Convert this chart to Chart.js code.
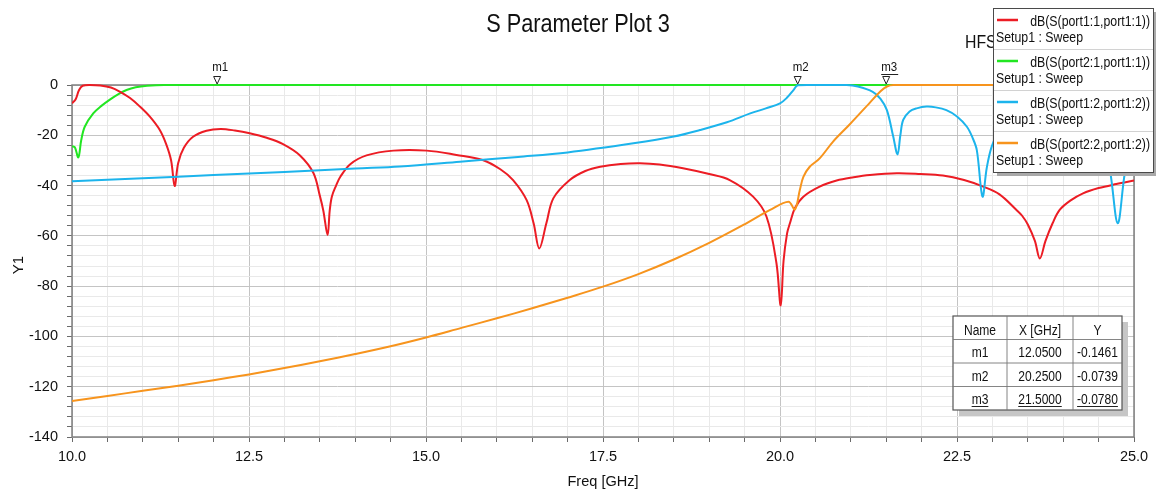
<!DOCTYPE html>
<html>
<head>
<meta charset="utf-8">
<script src="https://cdn.jsdelivr.net/npm/chart.js@4.4.0/dist/chart.umd.min.js"></script>
<style>
  html, body { margin: 0; padding: 0; background: #fff; }
  #wrap { width: 1156px; height: 493px; position: relative; }
</style>
</head>
<body>
<div id="wrap"><canvas id="sparam"></canvas></div>
<script>
// values (GHz / dB)
const s11Freq = [10.0, 10.05, 10.1, 10.15, 10.25, 10.4, 10.55, 10.68, 10.82, 10.96, 11.1, 11.24, 11.33, 11.4, 11.45, 11.5, 11.58, 11.71, 11.9, 12.1, 12.3, 12.51, 12.75, 12.98, 13.22, 13.41, 13.5, 13.55, 13.61, 13.64, 13.67, 13.73, 13.79, 13.93, 14.16, 14.54, 15.01, 15.43, 15.8, 16.05, 16.23, 16.42, 16.52, 16.6, 16.7, 16.8, 17.03, 17.25, 17.46, 17.75, 18.02, 18.3, 18.63, 19.0, 19.29, 19.62, 19.81, 19.95, 20.01, 20.05, 20.1, 20.14, 20.21, 20.33, 20.56, 20.8, 21.04, 21.27, 21.65, 21.98, 22.3, 22.6, 22.87, 23.1, 23.34, 23.42, 23.5, 23.6, 23.67, 23.75, 23.85, 23.95, 24.1, 24.28, 24.5, 24.75, 25.0];
const s11Db = [-7.3, -5.8, -2.0, -0.3, 0, -0.2, -1.0, -2.7, -5.2, -8.6, -12.6, -17.9, -23.5, -30, -40.2, -31, -25, -20.6, -18.2, -17.5, -18.1, -19.2, -21.0, -23.5, -28, -35, -44, -50, -59.7, -50, -44.4, -40, -36.5, -31.5, -28.0, -26.1, -26.1, -27.8, -29.8, -33.5, -37.8, -45.7, -55, -65, -55, -45, -37.8, -34.2, -32.5, -31.4, -31.1, -31.6, -33.1, -35.4, -37.8, -44.4, -52.4, -70.9, -87.7, -70, -59, -55, -49, -44.4, -40.4, -38.0, -36.7, -35.8, -35.1, -35.4, -36.0, -37.8, -40.4, -43.5, -49.7, -52, -55.5, -62, -69, -62, -55, -49.7, -46, -43.1, -41, -39.4, -38.0];

const s21Freq = [10.0, 10.04, 10.09, 10.13, 10.18, 10.3, 10.42, 10.54, 10.65, 10.77, 10.9, 11.06, 11.3, 25.0];
const s21Db = [-24.3, -24.8, -28.8, -22, -16.6, -11.3, -8.2, -5.7, -3.7, -2.0, -0.9, -0.3, 0, 0];

const s12Freq = [10.0, 11.0, 12.0, 13.0, 14.0, 14.63, 15.48, 16.3, 17.0, 17.93, 18.5, 18.87, 19.25, 19.58, 19.8, 20.0, 20.1, 20.19, 20.25, 20.4, 20.94, 21.1, 21.31, 21.42, 21.51, 21.6, 21.66, 21.7, 21.74, 21.83, 21.93, 22.07, 22.2, 22.35, 22.5, 22.64, 22.72, 22.78, 22.86, 22.92, 22.99, 23.1, 23.3, 23.6, 23.9, 24.2, 24.45, 24.58, 24.66, 24.77, 24.87, 24.95, 25.0];
const s12Db = [-38.3, -37.1, -35.8, -34.6, -33.2, -32.4, -30.5, -28.6, -26.8, -23.2, -20.5, -17.9, -14.8, -11.3, -9.3, -7.3, -5, -2, -0.1, 0, 0, -0.6, -2.7, -5.5, -10, -20.6, -27.6, -20, -13.9, -10.5, -9.3, -8.6, -8.9, -10, -12.5, -16.6, -21, -25.9, -44.4, -33, -24.5, -18, -12, -9, -9, -12, -18, -26, -33.8, -55, -35.1, -26, -22];

const s22Freq = [10.0, 10.5, 11.0, 11.5, 12.0, 12.5, 13.0, 13.5, 14.0, 14.5, 15.0, 15.5, 16.0, 16.5, 17.0, 17.5, 18.0, 18.5, 19.0, 19.5, 19.86, 20.12, 20.21, 20.28, 20.33, 20.42, 20.56, 20.75, 20.99, 21.27, 21.42, 21.51, 21.6, 25.0];
const s22Db = [-125.7, -123.7, -121.6, -119.6, -117.4, -115.1, -112.6, -109.9, -107.0, -103.9, -100.4, -96.6, -92.8, -88.8, -84.6, -80.2, -75.2, -69.4, -62.8, -55.4, -49.7, -46.4, -49.5, -41.8, -36.5, -32.5, -29.2, -22.5, -15.5, -7, -2.5, -0.6, 0, 0];

const seriesNames = ['dB(S(port1:1,port1:1))', 'dB(S(port2:1,port1:1))', 'dB(S(port1:2,port1:2))', 'dB(S(port2:2,port1:2))'];
const sweepName = 'Setup1 : Sweep';
const seriesColors = ['#ec1c24', '#22e622', '#1cb4ec', '#f7941d'];

const markerNames = ['m1', 'm2', 'm3'];
const markerFreqs = [12.05, 20.25, 21.5];
const markerValues = [-0.1461, -0.0739, -0.0780];

const FONT = '"Liberation Sans", Arial, sans-serif';

function isMultiple(v, step) {
    return Math.abs(v / step - Math.round(v / step)) < 1e-6;
}

function squeezeText(ctx, text, x, y, size, align, sx) {
    ctx.save();
    ctx.font = size + 'px ' + FONT;
    ctx.textAlign = align;
    ctx.textBaseline = 'alphabetic';
    ctx.fillStyle = '#111';
    ctx.translate(x, y);
    ctx.scale(sx, 1);
    ctx.fillText(text, 0, 0);
    ctx.restore();
}

function toPoints(fs, ds) {
    return fs.map((f, i) => ({ x: f, y: ds[i] }));
}

const framePlugin = {
    id: 'frame',
    beforeDatasetsDraw(chart) {
        const ctx = chart.ctx, a = chart.chartArea;
        ctx.save();
        ctx.strokeStyle = '#808080';
        ctx.lineWidth = 1.5;
        ctx.strokeRect(a.left, a.top, a.right - a.left, a.bottom - a.top);
        ctx.restore();
    }
};

const overlayPlugin = {
    id: 'overlay',
    afterDraw(chart) {
        const ctx = chart.ctx, a = chart.chartArea;
        const xs = chart.scales.x;

        squeezeText(ctx, 'S Parameter Plot 3', 578, 32, 25, 'center', 0.87);
        squeezeText(ctx, 'Freq [GHz]', (a.left + a.right) / 2, 486, 15, 'center', 0.97);
        ctx.save();
        ctx.translate(23, 265);
        ctx.rotate(-Math.PI / 2);
        squeezeText(ctx, 'Y1', 0, 0, 15, 'center', 1);
        ctx.restore();
        squeezeText(ctx, 'HFSSDesign1', 965, 48, 18, 'left', 0.88);

        // markers
        markerNames.forEach((name, i) => {
            const x = xs.getPixelForValue(markerFreqs[i]);
            const t = a.top;
            ctx.save();
            ctx.beginPath();
            ctx.moveTo(x - 3.5, t - 8.5);
            ctx.lineTo(x + 3.5, t - 8.5);
            ctx.lineTo(x, t - 1);
            ctx.closePath();
            ctx.fillStyle = '#fff';
            ctx.fill();
            ctx.strokeStyle = '#222';
            ctx.lineWidth = 1;
            ctx.stroke();
            ctx.restore();
            squeezeText(ctx, name, x - 5, t - 14, 12.5, 'left', 0.92);
            if (i === markerNames.length - 1) {
                ctx.save();
                ctx.strokeStyle = '#222';
                ctx.lineWidth = 1;
                ctx.beginPath();
                ctx.moveTo(x - 5, t - 10.5);
                ctx.lineTo(x + 12, t - 10.5);
                ctx.stroke();
                ctx.restore();
            }
        });

        // legend box
        const lx = 993, ly = 8, lw = 160, eh = 41, lh = eh * seriesNames.length;
        ctx.save();
        ctx.fillStyle = '#a9a9a9';
        ctx.fillRect(lx + 4, ly + 4, lw, lh);
        ctx.fillStyle = '#fff';
        ctx.fillRect(lx, ly, lw, lh);
        ctx.strokeStyle = '#4a4a4a';
        ctx.lineWidth = 1;
        ctx.strokeRect(lx + 0.5, ly + 0.5, lw, lh);
        ctx.strokeStyle = '#d2d2d2';
        for (let i = 1; i < seriesNames.length; i++) {
            ctx.beginPath();
            ctx.moveTo(lx + 1, ly + i * eh + 0.5);
            ctx.lineTo(lx + lw, ly + i * eh + 0.5);
            ctx.stroke();
        }
        seriesNames.forEach((name, i) => {
            const top = ly + i * eh;
            ctx.strokeStyle = seriesColors[i];
            ctx.lineWidth = 2.5;
            ctx.beginPath();
            ctx.moveTo(lx + 4, top + 12);
            ctx.lineTo(lx + 25, top + 12);
            ctx.stroke();
            squeezeText(ctx, name, lx + lw - 3, top + 18, 14, 'right', 0.88);
            squeezeText(ctx, sweepName, lx + 3, top + 34, 14, 'left', 0.88);
        });
        ctx.restore();

        // marker table
        const tx = 953, ty = 316, cw = [54, 66, 49], rh = 23.5;
        const tw = cw[0] + cw[1] + cw[2], th = rh * (markerNames.length + 1);
        ctx.save();
        ctx.fillStyle = '#c6c6c6';
        ctx.fillRect(tx + 6, ty + 6, tw, th);
        ctx.fillStyle = '#fff';
        ctx.fillRect(tx, ty, tw, th);
        ctx.strokeStyle = '#555';
        ctx.lineWidth = 1.2;
        ctx.strokeRect(tx, ty, tw, th);
        ctx.lineWidth = 0.9;
        ctx.strokeStyle = '#777';
        for (let r = 1; r <= markerNames.length; r++) {
            ctx.beginPath();
            ctx.moveTo(tx, ty + r * rh);
            ctx.lineTo(tx + tw, ty + r * rh);
            ctx.stroke();
        }
        let cx = tx;
        for (let c = 0; c < 2; c++) {
            cx += cw[c];
            ctx.beginPath();
            ctx.moveTo(cx, ty);
            ctx.lineTo(cx, ty + th);
            ctx.stroke();
        }
        const centers = [tx + cw[0] / 2, tx + cw[0] + cw[1] / 2, tx + cw[0] + cw[1] + cw[2] / 2];
        const header = ['Name', 'X [GHz]', 'Y'];
        header.forEach((h, c) => squeezeText(ctx, h, centers[c], ty + 19, 14, 'center', 0.86));
        markerNames.forEach((name, r) => {
            const cells = [name, markerFreqs[r].toFixed(4), markerValues[r].toFixed(4)];
            const base = ty + (r + 1) * rh + 17.5;
            cells.forEach((txt, c) => {
                squeezeText(ctx, txt, centers[c], base, 14, 'center', 0.86);
                if (r === markerNames.length - 1) {
                    ctx.font = '14px ' + FONT;
                    const w = ctx.measureText(txt).width * 0.86;
                    ctx.strokeStyle = '#222';
                    ctx.lineWidth = 1;
                    ctx.beginPath();
                    ctx.moveTo(centers[c] - w / 2, base + 2.5);
                    ctx.lineTo(centers[c] + w / 2, base + 2.5);
                    ctx.stroke();
                }
            });
        });
        ctx.restore();
    }
};

const gridMajor = '#c4c4c4';
const gridMinor = '#e9e9e9';

const ctx = document.getElementById('sparam').getContext('2d');
const chart = new Chart(ctx, {
    type: 'line',
    data: {
        datasets: [
            { label: seriesNames[0], data: toPoints(s11Freq, s11Db), borderColor: seriesColors[0], order: 2 },
            { label: seriesNames[1], data: toPoints(s21Freq, s21Db), borderColor: seriesColors[1], order: 3 },
            { label: seriesNames[2], data: toPoints(s12Freq, s12Db), borderColor: seriesColors[2], order: 1 },
            { label: seriesNames[3], data: toPoints(s22Freq, s22Db), borderColor: seriesColors[3], order: 0 }
        ]
    },
    options: {
        responsive: true,
        maintainAspectRatio: false,
        animation: false,
        devicePixelRatio: 1,
        layout: { padding: { left: 0, top: 85, right: 22, bottom: 0 } },
        elements: {
            point: { radius: 0 },
            line: { borderWidth: 2, tension: 0.35, fill: false }
        },
        datasets: { line: { clip: { left: 0, top: 3, right: 2, bottom: 0 } } },
        plugins: {
            legend: { display: false },
            tooltip: { enabled: false },
            title: { display: false }
        },
        scales: {
            x: {
                type: 'linear',
                min: 10,
                max: 25,
                afterBuildTicks(scale) {
                    const t = [];
                    for (let v = 10; v <= 25.0001; v += 0.5) t.push({ value: Math.round(v * 10) / 10 });
                    scale.ticks = t;
                },
                afterFit(scale) {
                    scale.height = 56;
                    scale.paddingLeft = 0;
                    scale.paddingRight = 0;
                },
                border: { display: false },
                grid: {
                    color: c => isMultiple(c.tick.value, 2.5) ? gridMajor : gridMinor,
                    tickColor: '#6a6a6a',
                    tickLength: 5,
                    lineWidth: 1
                },
                ticks: {
                    autoSkip: false,
                    maxRotation: 0,
                    padding: 6,
                    color: '#111',
                    font: { family: FONT, size: 14.5 },
                    callback: v => isMultiple(v, 2.5) ? v.toFixed(1) : ''
                }
            },
            y: {
                min: -140,
                max: 0,
                afterBuildTicks(scale) {
                    const t = [];
                    for (let v = -140; v <= 0; v += 4) t.push({ value: v });
                    scale.ticks = t;
                },
                afterFit(scale) {
                    scale.width = 72;
                    scale.paddingTop = 0;
                    scale.paddingBottom = 0;
                },
                border: { display: false },
                grid: {
                    color: c => isMultiple(c.tick.value, 20) ? gridMajor : gridMinor,
                    tickColor: '#6a6a6a',
                    tickLength: 5,
                    lineWidth: 1
                },
                ticks: {
                    autoSkip: false,
                    padding: 9,
                    color: '#111',
                    font: { family: FONT, size: 14.5 },
                    callback: v => isMultiple(v, 20) ? String(v) : ''
                }
            }
        }
    },
    plugins: [framePlugin, overlayPlugin]
});
</script>
</body>
</html>
